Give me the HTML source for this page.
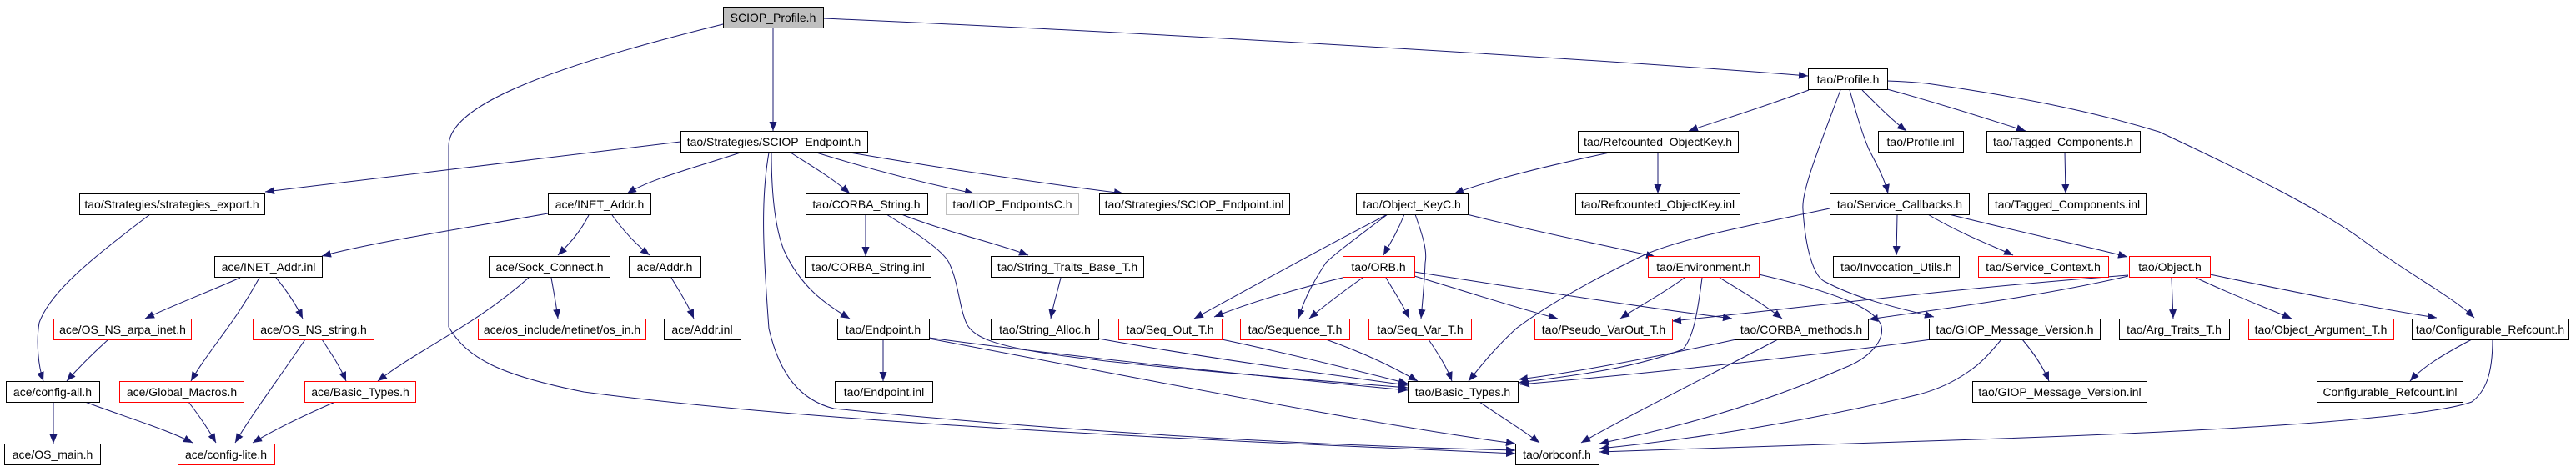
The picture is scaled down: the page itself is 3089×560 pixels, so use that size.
<!DOCTYPE html>
<html><head><meta charset="utf-8"><style>
html,body{margin:0;padding:0;background:#fff;}
svg{display:block;}
text{font-family:"Liberation Sans",sans-serif;font-size:14px;fill:#000;text-anchor:middle;}
.n{fill:#fff;stroke:#000;stroke-width:1;}
.r{fill:#fff;stroke:#f00;stroke-width:1;}
.g{fill:#fff;stroke:#bfbfbf;stroke-width:1;}
.e{fill:none;stroke:#191970;stroke-width:1;marker-end:url(#a);}
</style></head><body>
<svg width="3089" height="560" viewBox="0 0 3089 560" xmlns="http://www.w3.org/2000/svg">
<defs><marker id="a" markerUnits="userSpaceOnUse" markerWidth="12" markerHeight="10" refX="11" refY="4.5" orient="auto"><path d="M0,0 L11,4.5 L0,9 z" fill="#191970"/></marker></defs>
<g>
<path class="e" d="M927 33 L927 157"/>
<path class="e" d="M987 22 C1400 40 1900 70 2168 91"/>
<path class="e" d="M867 29 C640 85 538 130 538 175 L538 392 C560 430 600 450 700 470 C1000 510 1500 530 1817 544"/>
<path class="e" d="M816 170 L318 230"/>
<path class="e" d="M888 183 C820 205 780 215 752 232"/>
<path class="e" d="M948 183 C975 200 1000 215 1019 232"/>
<path class="e" d="M979 183 C1050 205 1110 220 1168 232"/>
<path class="e" d="M1019 183 C1150 205 1250 220 1347 232"/>
<path class="e" d="M925 183 C925 230 929 272 940 300 C960 344 990 365 1019 382"/>
<path class="e" d="M922 183 C912 240 915 300 922 394 C935 450 960 480 1000 490 C1300 520 1600 535 1817 540"/>
<path class="e" d="M180 257 C110 310 60 350 47 387 C43 410 46 440 52 457"/>
<path class="e" d="M657 256 C550 275 450 290 386 307"/>
<path class="e" d="M706 258 C695 280 680 295 669 306"/>
<path class="e" d="M734 258 C750 280 765 295 779 306"/>
<path class="e" d="M288 333 C250 350 210 365 174 382"/>
<path class="e" d="M311 333 C280 390 250 420 229 457"/>
<path class="e" d="M331 333 C345 350 355 365 363 382"/>
<path class="e" d="M634 333 C570 390 500 420 453 457"/>
<path class="e" d="M661 333 C664 350 667 365 669 382"/>
<path class="e" d="M805 333 C815 350 825 365 832 382"/>
<path class="e" d="M130 407 C110 425 95 440 80 457"/>
<path class="e" d="M366 407 C330 460 300 500 282 531"/>
<path class="e" d="M386 407 C398 425 408 440 415 457"/>
<path class="e" d="M64 482 L64 532"/>
<path class="e" d="M102 482 C150 500 200 515 231 531"/>
<path class="e" d="M226 482 C240 500 250 515 259 531"/>
<path class="e" d="M402 482 C360 500 330 515 303 531"/>
<path class="e" d="M1038 257 L1038 307"/>
<path class="e" d="M1081 257 C1140 280 1190 290 1233 306"/>
<path class="e" d="M1063 257 C1100 280 1130 300 1138 315 C1150 340 1150 370 1160 390 C1180 420 1250 430 1688 465"/>
<path class="e" d="M1272 333 C1268 350 1263 365 1260 382"/>
<path class="e" d="M1317 406 C1450 430 1600 450 1688 462"/>
<path class="e" d="M1059 407 L1059 457"/>
<path class="e" d="M1114 405 C1300 430 1550 455 1688 468"/>
<path class="e" d="M1114 406 C1400 460 1650 510 1817 532"/>
<path class="e" d="M1465 407 C1550 425 1630 445 1688 460"/>
<path class="e" d="M1590 407 C1640 425 1670 440 1700 457"/>
<path class="e" d="M1713 407 C1725 425 1735 440 1741 457"/>
<path class="e" d="M2169 108 C2110 130 2060 145 2025 157"/>
<path class="e" d="M2233 108 C2255 130 2270 145 2286 157"/>
<path class="e" d="M2263 107 C2330 125 2390 145 2429 157"/>
<path class="e" d="M2218 108 C2230 150 2235 165 2241 179 C2252 200 2260 215 2264 232"/>
<path class="e" d="M2207 108 C2180 180 2160 230 2162 251 C2165 300 2175 330 2187 337 C2230 360 2280 370 2319 380"/>
<path class="e" d="M2263 97 C2290 98 2300 99 2310 100 C2450 120 2530 140 2589 158 C2700 210 2780 250 2832 287 C2890 330 2940 355 2967 381"/>
<path class="e" d="M1930 183 C1850 200 1790 215 1744 232"/>
<path class="e" d="M1988 182 L1988 232"/>
<path class="e" d="M2476 182 L2477 232"/>
<path class="e" d="M1684 257 C1675 280 1665 295 1659 306"/>
<path class="e" d="M1697 257 C1705 280 1712 300 1709 315 C1708 340 1706 360 1704 382"/>
<path class="e" d="M1664 257 C1620 290 1600 305 1590 315 C1570 345 1562 365 1557 382"/>
<path class="e" d="M1662 258 C1580 300 1500 345 1432 382"/>
<path class="e" d="M1759 257 C1850 280 1930 295 1985 308"/>
<path class="e" d="M2194 250 C2100 270 2020 285 1973 305 C1900 340 1850 370 1818 394 C1790 420 1775 440 1761 457"/>
<path class="e" d="M2275 258 L2274 306"/>
<path class="e" d="M2310 256 C2350 280 2390 295 2414 306"/>
<path class="e" d="M2337 257 C2430 280 2500 295 2551 308"/>
<path class="e" d="M1634 333 C1610 350 1590 365 1570 382"/>
<path class="e" d="M1662 333 C1672 350 1682 365 1690 382"/>
<path class="e" d="M1696 331 C1760 350 1820 370 1868 382"/>
<path class="e" d="M1696 326 C1850 350 1980 370 2077 382"/>
<path class="e" d="M1610 333 C1560 345 1500 362 1456 380"/>
<path class="e" d="M2020 333 C1990 355 1960 370 1943 382"/>
<path class="e" d="M2062 333 C2090 350 2115 365 2137 382"/>
<path class="e" d="M2041 333 C2035 380 2030 405 2018 419 C1950 445 1870 452 1821 459"/>
<path class="e" d="M2109 329 C2200 350 2250 370 2256 391 C2260 410 2240 430 2212 441 C2100 490 2000 515 1918 532"/>
<path class="e" d="M2082 407 C2000 425 1900 445 1821 455"/>
<path class="e" d="M2132 407 C2050 450 1950 500 1896 531"/>
<path class="e" d="M2316 407 C2150 430 1950 450 1823 461"/>
<path class="e" d="M2400 407 C2385 425 2375 436 2360 446 C2340 460 2320 468 2301 473 C2150 510 2000 530 1918 538"/>
<path class="e" d="M2425 407 C2440 425 2450 440 2457 457"/>
<path class="e" d="M2552 330 C2350 345 2150 370 2005 385"/>
<path class="e" d="M2552 331 C2450 355 2330 370 2241 383"/>
<path class="e" d="M2604 333 L2606 382"/>
<path class="e" d="M2633 333 C2680 355 2720 370 2748 382"/>
<path class="e" d="M2650 329 C2750 350 2850 370 2922 381"/>
<path class="e" d="M2964 407 C2930 425 2905 440 2890 457"/>
<path class="e" d="M2989 407 C2989 450 2980 470 2964 482 C2900 505 2600 520 2310 529 C2150 535 2000 540 1918 542"/>
<path class="e" d="M1774 482 C1800 500 1825 515 1846 531"/>
</g>
<g>
<rect x="867.5" y="8.5" width="120" height="25" fill="#bfbfbf" stroke="#000"/><text x="927" y="26">SCIOP_Profile.h</text>
<rect class="n" x="816.5" y="157.5" width="224" height="25"/><text x="928" y="175">tao/Strategies/SCIOP_Endpoint.h</text>
<rect class="n" x="2168.5" y="82.5" width="95" height="25"/><text x="2216" y="100">tao/Profile.h</text>
<rect class="n" x="95.5" y="232.5" width="222" height="25"/><text x="206" y="250">tao/Strategies/strategies_export.h</text>
<rect class="n" x="657.5" y="232.5" width="123" height="25"/><text x="719" y="250">ace/INET_Addr.h</text>
<rect class="n" x="966.5" y="232.5" width="146" height="25"/><text x="1039" y="250">tao/CORBA_String.h</text>
<rect class="g" x="1134.5" y="232.5" width="159" height="25"/><text x="1214" y="250">tao/IIOP_EndpointsC.h</text>
<rect class="n" x="1318.5" y="232.5" width="228" height="25"/><text x="1432" y="250">tao/Strategies/SCIOP_Endpoint.inl</text>
<rect class="n" x="1892.5" y="157.5" width="192" height="25"/><text x="1988" y="175">tao/Refcounted_ObjectKey.h</text>
<rect class="n" x="2252.5" y="157.5" width="102" height="25"/><text x="2303" y="175">tao/Profile.inl</text>
<rect class="n" x="2382.5" y="157.5" width="184" height="25"/><text x="2474" y="175">tao/Tagged_Components.h</text>
<rect class="n" x="1626.5" y="232.5" width="134" height="25"/><text x="1693" y="250">tao/Object_KeyC.h</text>
<rect class="n" x="1889.5" y="232.5" width="197" height="25"/><text x="1988" y="250">tao/Refcounted_ObjectKey.inl</text>
<rect class="n" x="2194.5" y="232.5" width="167" height="25"/><text x="2278" y="250">tao/Service_Callbacks.h</text>
<rect class="n" x="2384.5" y="232.5" width="189" height="25"/><text x="2479" y="250">tao/Tagged_Components.inl</text>
<rect class="n" x="257.5" y="307.5" width="129" height="25"/><text x="322" y="325">ace/INET_Addr.inl</text>
<rect class="n" x="586.5" y="307.5" width="145" height="25"/><text x="659" y="325">ace/Sock_Connect.h</text>
<rect class="n" x="754.5" y="307.5" width="86" height="25"/><text x="797" y="325">ace/Addr.h</text>
<rect class="n" x="965.5" y="307.5" width="151" height="25"/><text x="1041" y="325">tao/CORBA_String.inl</text>
<rect class="n" x="1188.5" y="307.5" width="183" height="25"/><text x="1280" y="325">tao/String_Traits_Base_T.h</text>
<rect class="r" x="1610.5" y="307.5" width="86" height="25"/><text x="1653" y="325">tao/ORB.h</text>
<rect class="r" x="1976.5" y="307.5" width="133" height="25"/><text x="2043" y="325">tao/Environment.h</text>
<rect class="n" x="2198.5" y="307.5" width="151" height="25"/><text x="2274" y="325">tao/Invocation_Utils.h</text>
<rect class="r" x="2372.5" y="307.5" width="156" height="25"/><text x="2450" y="325">tao/Service_Context.h</text>
<rect class="r" x="2553.5" y="307.5" width="97" height="25"/><text x="2602" y="325">tao/Object.h</text>
<rect class="r" x="64.5" y="382.5" width="165" height="25"/><text x="147" y="400">ace/OS_NS_arpa_inet.h</text>
<rect class="r" x="303.5" y="382.5" width="145" height="25"/><text x="376" y="400">ace/OS_NS_string.h</text>
<rect class="r" x="573.5" y="382.5" width="201" height="25"/><text x="674" y="400">ace/os_include/netinet/os_in.h</text>
<rect class="n" x="796.5" y="382.5" width="92" height="25"/><text x="842" y="400">ace/Addr.inl</text>
<rect class="n" x="1004.5" y="382.5" width="110" height="25"/><text x="1059" y="400">tao/Endpoint.h</text>
<rect class="n" x="1188.5" y="382.5" width="129" height="25"/><text x="1253" y="400">tao/String_Alloc.h</text>
<rect class="r" x="1341.5" y="382.5" width="124" height="25"/><text x="1403" y="400">tao/Seq_Out_T.h</text>
<rect class="r" x="1487.5" y="382.5" width="131" height="25"/><text x="1553" y="400">tao/Sequence_T.h</text>
<rect class="r" x="1641.5" y="382.5" width="123" height="25"/><text x="1703" y="400">tao/Seq_Var_T.h</text>
<rect class="r" x="1840.5" y="382.5" width="165" height="25"/><text x="1923" y="400">tao/Pseudo_VarOut_T.h</text>
<rect class="n" x="2080.5" y="382.5" width="160" height="25"/><text x="2160" y="400">tao/CORBA_methods.h</text>
<rect class="n" x="2313.5" y="382.5" width="205" height="25"/><text x="2416" y="400">tao/GIOP_Message_Version.h</text>
<rect class="n" x="2541.5" y="382.5" width="132" height="25"/><text x="2607" y="400">tao/Arg_Traits_T.h</text>
<rect class="r" x="2696.5" y="382.5" width="174" height="25"/><text x="2783" y="400">tao/Object_Argument_T.h</text>
<rect class="n" x="2892.5" y="382.5" width="188" height="25"/><text x="2986" y="400">tao/Configurable_Refcount.h</text>
<rect class="n" x="7.5" y="457.5" width="112" height="25"/><text x="63" y="475">ace/config-all.h</text>
<rect class="r" x="143.5" y="457.5" width="149" height="25"/><text x="218" y="475">ace/Global_Macros.h</text>
<rect class="r" x="365.5" y="457.5" width="133" height="25"/><text x="432" y="475">ace/Basic_Types.h</text>
<rect class="n" x="1001.5" y="457.5" width="117" height="25"/><text x="1060" y="475">tao/Endpoint.inl</text>
<rect class="n" x="1688.5" y="457.5" width="132" height="25"/><text x="1754" y="475">tao/Basic_Types.h</text>
<rect class="n" x="2365.5" y="457.5" width="209" height="25"/><text x="2470" y="475">tao/GIOP_Message_Version.inl</text>
<rect class="n" x="2778.5" y="457.5" width="175" height="25"/><text x="2866" y="475">Configurable_Refcount.inl</text>
<rect class="n" x="5.5" y="532.5" width="115" height="25"/><text x="63" y="550">ace/OS_main.h</text>
<rect class="r" x="213.5" y="532.5" width="116" height="25"/><text x="271" y="550">ace/config-lite.h</text>
<rect class="n" x="1817.5" y="532.5" width="100" height="25"/><text x="1867" y="550">tao/orbconf.h</text>
</g>
</svg>
</body></html>
